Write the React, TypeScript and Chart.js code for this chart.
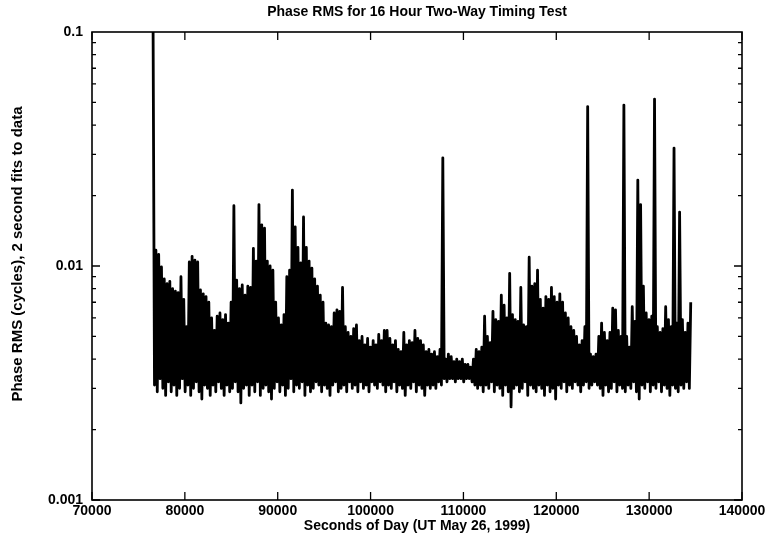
import { useEffect, useRef } from "react";
import { Chart, registerables } from "chart.js";

Chart.register(...registerables);

const titleText = "Phase RMS for 16 Hour Two-Way Timing Test";
const xTitleText = "Seconds of Day (UT May 26, 1999)";
const yTitleText = "Phase RMS (cycles), 2 second fits to data";

const xTicks = [70000, 80000, 90000, 100000, 110000, 120000, 130000, 140000];
const yTicks = [0.001, 0.01, 0.1];

// Time (s) of the first sample and the spacing between successive upper-envelope samples
const sampleStart = 76580;
const sampleStep = 300;

// Upper excursions of the phase RMS trace (cycles), one per sampleStep
const upperValues = [
  0.1, 0.0117, 0.0112, 0.0099, 0.0088, 0.0084, 0.0086, 0.008, 0.0078, 0.0077,
  0.009, 0.0072, 0.0055, 0.0104, 0.011, 0.0106, 0.0104, 0.0079, 0.0076, 0.0074,
  0.007, 0.006, 0.0053, 0.0061, 0.0063, 0.0059, 0.0062, 0.0057, 0.007, 0.0181,
  0.0087, 0.008, 0.0083, 0.0075, 0.0082, 0.0081, 0.0119, 0.0105, 0.0183, 0.015,
  0.0145, 0.0105, 0.01, 0.0096, 0.007, 0.006, 0.0056, 0.0062, 0.009, 0.0096,
  0.0211, 0.0147, 0.012, 0.0103, 0.0162, 0.012, 0.0105, 0.0098, 0.0088, 0.0082,
  0.0075, 0.007, 0.0057, 0.0056, 0.0055, 0.0063, 0.0065, 0.0064, 0.0081, 0.0055,
  0.0052, 0.005, 0.0054, 0.0056, 0.0048, 0.005, 0.0046, 0.0049, 0.0045, 0.0048,
  0.0046, 0.0051, 0.0048, 0.0053, 0.0053, 0.0049, 0.0046, 0.0048, 0.0044, 0.0043,
  0.0052, 0.0046, 0.0048, 0.0047, 0.0053, 0.0049, 0.0048, 0.0046, 0.0043, 0.0044,
  0.0042, 0.0043, 0.0041, 0.0044, 0.029, 0.004, 0.0042, 0.0041, 0.0039, 0.004,
  0.0039, 0.004, 0.0038, 0.0038, 0.0037, 0.004, 0.0044, 0.0043, 0.0045, 0.0061,
  0.005, 0.0047, 0.0064, 0.0059, 0.0058, 0.0075, 0.0068, 0.006, 0.0093, 0.0062,
  0.0059, 0.0058, 0.0081, 0.0056, 0.0055, 0.0109, 0.0082, 0.0084, 0.0096, 0.0072,
  0.0066, 0.0074, 0.0072, 0.0081, 0.0074, 0.007, 0.0076, 0.007, 0.0063, 0.006,
  0.0055, 0.0053, 0.005, 0.0046, 0.0048, 0.0055, 0.048, 0.0042, 0.0041, 0.0042,
  0.005, 0.0057, 0.0052, 0.0048, 0.0052, 0.0066, 0.0065, 0.0053, 0.005, 0.0487,
  0.005, 0.0045, 0.0067, 0.0058, 0.0233, 0.0183, 0.0082, 0.0063, 0.0059, 0.0061,
  0.0517, 0.0055, 0.0052, 0.0054, 0.0067, 0.0059, 0.0055, 0.0319, 0.0057, 0.017,
  0.0059, 0.0052, 0.0057, 0.007,
];

// Lower excursions (cycles), half a step after each upper sample
const lowerValues = [
  0.0031, 0.0029, 0.0033, 0.003, 0.0028, 0.0032, 0.0029, 0.0031, 0.0028, 0.003,
  0.0033, 0.0029, 0.0031, 0.0028, 0.003, 0.0032, 0.0029, 0.0027, 0.0031, 0.003,
  0.0028, 0.0031, 0.0029, 0.0032, 0.003, 0.0028, 0.0031, 0.0029, 0.003, 0.0032,
  0.0029, 0.0026, 0.003, 0.0031, 0.0028, 0.0031, 0.0029, 0.0032, 0.0028, 0.003,
  0.0031, 0.0029, 0.0027, 0.003, 0.0032, 0.0029, 0.0031, 0.0028, 0.003, 0.0033,
  0.0029, 0.0031, 0.003, 0.0032, 0.0028, 0.0031, 0.0029, 0.003, 0.0032, 0.0031,
  0.0029, 0.0031, 0.003, 0.0028, 0.0031, 0.0032, 0.0029, 0.003, 0.0031, 0.0029,
  0.0032, 0.003, 0.0031, 0.0029, 0.0032, 0.003, 0.0031, 0.0029, 0.0032, 0.0031,
  0.003, 0.0032, 0.0031, 0.0029, 0.0031, 0.003, 0.0032, 0.0029, 0.0031, 0.003,
  0.0028, 0.0031, 0.003, 0.0032, 0.0029, 0.0031, 0.003, 0.0028, 0.0031, 0.003,
  0.0031, 0.003, 0.0032, 0.0031, 0.0033, 0.0032, 0.0033, 0.0033, 0.0032, 0.0033,
  0.0033, 0.0032, 0.0033, 0.0033, 0.0032, 0.0031, 0.003, 0.0031, 0.0029, 0.0031,
  0.003, 0.0032, 0.0029, 0.0031, 0.003, 0.0028, 0.0031, 0.0029, 0.0025, 0.003,
  0.0031, 0.0029, 0.003, 0.0032, 0.0028, 0.0031, 0.003, 0.0029, 0.0031, 0.003,
  0.0028, 0.0031, 0.0029, 0.003, 0.0027, 0.0031, 0.003, 0.0032, 0.0029, 0.0031,
  0.003, 0.0032, 0.0031, 0.0029, 0.0031, 0.0032, 0.003, 0.0031, 0.0032, 0.0031,
  0.003, 0.0028, 0.0031, 0.0029, 0.003, 0.0032, 0.0029, 0.0031, 0.003, 0.0029,
  0.0031, 0.003, 0.0032, 0.0029, 0.0027, 0.0031, 0.003, 0.0032, 0.0029, 0.0031,
  0.003, 0.0032, 0.0029, 0.0031, 0.003, 0.0028, 0.0031, 0.003, 0.0029, 0.0031,
  0.003, 0.0032, 0.003,
];

const FONT_FAMILY = '"Liberation Sans", Arial, Helvetica, sans-serif';

function buildPoints() {
  const pts: { x: number; y: number }[] = [];
  upperValues.forEach((v, i) => {
    const t = sampleStart + i * sampleStep;
    pts.push({ x: t, y: v });
    if (i < lowerValues.length) {
      pts.push({ x: t + sampleStep / 2, y: lowerValues[i] });
    }
  });
  return pts;
}

const framePlugin = {
  id: "gnuplotFrame",
  afterDatasetsDraw(chart: any) {
    const { ctx, chartArea: a, scales } = chart;
    const xs = scales.x;
    const ys = scales.y;
    ctx.save();
    ctx.strokeStyle = "#000";
    ctx.lineWidth = 1.6;
    ctx.strokeRect(a.left, a.top, a.right - a.left, a.bottom - a.top);
    ctx.lineWidth = 1.3;
    ctx.beginPath();
    for (const v of xTicks) {
      const px = xs.getPixelForValue(v);
      ctx.moveTo(px, a.bottom);
      ctx.lineTo(px, a.bottom - 8);
      ctx.moveTo(px, a.top);
      ctx.lineTo(px, a.top + 8);
    }
    for (let d = 0; d < yTicks.length - 1; d++) {
      for (let k = 1; k < 10; k++) {
        const py = ys.getPixelForValue(yTicks[d] * k);
        const len = k === 1 ? 8 : 4;
        ctx.moveTo(a.left, py);
        ctx.lineTo(a.left + len, py);
        ctx.moveTo(a.right, py);
        ctx.lineTo(a.right - len, py);
      }
    }
    ctx.stroke();

    ctx.translate(18, (a.top + a.bottom) / 2 - 12);
    ctx.rotate(-Math.PI / 2);
    ctx.fillStyle = "#000";
    ctx.font = `bold 15px ${FONT_FAMILY}`;
    ctx.textAlign = "center";
    ctx.textBaseline = "middle";
    ctx.fillText(yTitleText, 0, 0);
    ctx.restore();
  },
};

export default function App() {
  const canvasRef = useRef<HTMLCanvasElement | null>(null);

  useEffect(() => {
    document.body.style.margin = "0";
    const canvas = canvasRef.current;
    if (!canvas) return;
    const font = { family: FONT_FAMILY, size: 14, weight: "bold" as const };
    const chart = new Chart(canvas, {
      type: "line",
      data: {
        datasets: [
          {
            data: buildPoints(),
            borderColor: "#000",
            borderWidth: 2.8,
            borderJoinStyle: "round",
            pointRadius: 0,
            tension: 0,
            fill: false,
          },
        ],
      },
      options: {
        responsive: false,
        animation: false,
        devicePixelRatio: 1,
        layout: { padding: { left: 0, right: 27, top: 0, bottom: 0 } },
        plugins: {
          legend: { display: false },
          tooltip: { enabled: false },
          title: {
            display: true,
            text: titleText,
            fullSize: false,
            color: "#000",
            font,
            padding: { top: 3.6, bottom: 11.6 },
          },
        },
        scales: {
          x: {
            type: "linear",
            min: 70000,
            max: 140000,
            afterBuildTicks: (s: any) => {
              s.ticks = xTicks.map((v) => ({ value: v }));
            },
            afterFit: (s: any) => {
              s.height = 38;
            },
            ticks: {
              callback: (v: any) => String(v),
              color: "#000",
              font,
              padding: 3,
              maxRotation: 0,
              autoSkip: false,
            },
            grid: { display: false, drawTicks: false },
            border: { display: false },
            title: {
              display: true,
              text: xTitleText,
              color: "#000",
              font,
              padding: { top: 0, bottom: 3 },
            },
          },
          y: {
            type: "logarithmic",
            min: 0.001,
            max: 0.1,
            afterBuildTicks: (s: any) => {
              s.ticks = yTicks.map((v) => ({ value: v }));
            },
            afterFit: (s: any) => {
              s.width = 92;
            },
            ticks: {
              callback: (v: any) => String(v),
              color: "#000",
              font,
              padding: 9,
              autoSkip: false,
            },
            grid: { display: false, drawTicks: false },
            border: { display: false },
          },
        },
      },
      plugins: [framePlugin],
    } as any);
    return () => chart.destroy();
  }, []);

  return (
    <div style={{ width: 769, height: 538, background: "#fff" }}>
      <canvas ref={canvasRef} width={769} height={538} style={{ display: "block" }} />
    </div>
  );
}
